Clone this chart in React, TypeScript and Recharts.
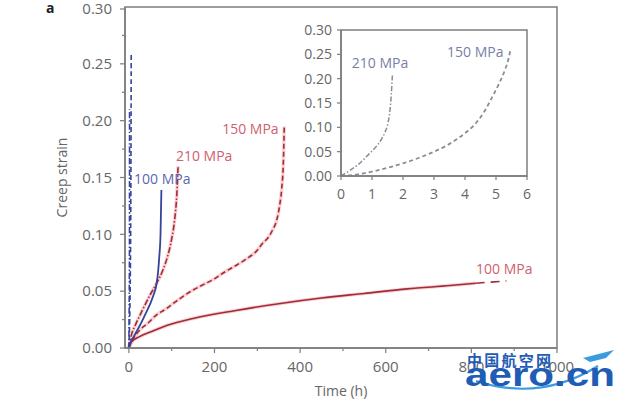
import { LineChart, Line, XAxis, YAxis, ReferenceArea, ReferenceDot } from 'recharts';

if (typeof document !== 'undefined') document.body.style.margin = '0';

// main panel (time in hours)
const Y_MAJOR = [0, 0.05, 0.1, 0.15, 0.2, 0.25, 0.3];
const Y_MINOR = [0.025, 0.075, 0.125, 0.175, 0.225, 0.275];
const X_MAJOR = [0, 200, 400, 600, 800, 1000];
const X_MINOR = [100, 300, 500, 700, 900];

// inset panel
const IN_Y_MAJOR = [0, 0.05, 0.1, 0.15, 0.2, 0.25, 0.3];
const IN_Y_MINOR = [0.025, 0.075, 0.125, 0.175, 0.225, 0.275];
const IN_X_MAJOR = [0, 1, 2, 3, 4, 5, 6];
const IN_X_MINOR = [0.5, 1.5, 2.5, 3.5, 4.5, 5.5];

// short-lived tests (shown in inset, also near x=0 in the main panel)
const T_210_SHORT = [0, 0.3, 0.6, 0.9, 1.1, 1.3, 1.42, 1.52, 1.58, 1.62, 1.66];
const S_210_SHORT = [0, 0.012, 0.026, 0.045, 0.058, 0.075, 0.09, 0.11, 0.135, 0.165, 0.21];
const T_150_SHORT = [0, 0.5, 1, 1.5, 2, 2.5, 3, 3.5, 4, 4.3, 4.6, 4.9, 5.1, 5.3, 5.4, 5.47];
const S_150_SHORT = [0, 0.003, 0.009, 0.017, 0.026, 0.037, 0.05, 0.066, 0.088, 0.105, 0.13, 0.165, 0.19, 0.22, 0.24, 0.26];

// blue 100 MPa
const T_100_BLUE = [0, 5, 10, 20, 30, 40, 50, 58, 64, 68, 71, 74, 76];
const S_100_BLUE = [0, 0.006, 0.009, 0.016, 0.023, 0.031, 0.039, 0.047, 0.055, 0.066, 0.08, 0.1, 0.139];

// red series
const T_210_RED = [0, 5, 15, 30, 50, 65, 80, 90, 100, 107, 112, 115];
const S_210_RED = [0, 0.01, 0.02, 0.032, 0.047, 0.057, 0.069, 0.08, 0.096, 0.113, 0.135, 0.16];
const T_150_RED = [0, 10, 26, 45, 64, 85, 103, 125, 150, 175, 196, 220, 243, 265, 281, 300, 312, 325, 336, 345, 352, 357, 361, 363];
const S_150_RED = [0, 0.008, 0.016, 0.022, 0.029, 0.034, 0.039, 0.045, 0.051, 0.056, 0.06, 0.066, 0.071, 0.076, 0.08, 0.086, 0.092, 0.097, 0.104, 0.112, 0.125, 0.14, 0.165, 0.195];
const T_100_RED = [0, 5, 25, 50, 90, 150, 250, 350, 450, 550, 650, 750, 810];
const S_100_RED = [0, 0.005, 0.01, 0.014, 0.02, 0.026, 0.033, 0.039, 0.044, 0.048, 0.052, 0.055, 0.057];
const T_100_RED_EXT = [810, 882];
const S_100_RED_EXT = [0.057, 0.059];

const FONT = '"Open Sans", "DejaVu Sans", sans-serif';
const AXIS = '#7d7d7d';
const TEXT = '#666';
const RED = '#a02c3a';
const HALO = '#f07a80';
const BLUE = '#34449a';

const zip = (t: number[], s: number[]) => t.map((v, i) => ({ t: v, s: s[i] }));

const TICK_SIZE = 5;
const TICK_GAP = 8;

function makeYTick(majors: number[], size: number, gap: number, fontSize: number) {
  return (props: any) => {
    const { x, y, payload } = props;
    const major = majors.includes(payload.value);
    const ax = x + size + gap;
    return (
      <g>
        <line x1={ax} x2={ax - (major ? size : size - 2)} y1={y} y2={y} stroke={AXIS} strokeWidth={1.2} />
        {major && (
          <text x={x} y={y} dy="0.35em" textAnchor="end" fill={TEXT} fontSize={fontSize} fontFamily={FONT}>
            {payload.value.toFixed(2)}
          </text>
        )}
      </g>
    );
  };
}

function makeXTick(majors: number[], size: number, gap: number, fontSize: number) {
  return (props: any) => {
    const { x, y, payload } = props;
    const major = majors.includes(payload.value);
    const ay = y - size - gap;
    return (
      <g>
        <line x1={x} x2={x} y1={ay} y2={ay + (major ? size : size - 2)} stroke={AXIS} strokeWidth={1.2} />
        {major && (
          <text x={x} y={y} dy="0.75em" textAnchor="middle" fill={TEXT} fontSize={fontSize} fontFamily={FONT}>
            {payload.value}
          </text>
        )}
      </g>
    );
  };
}

const MainYTick = makeYTick(Y_MAJOR, TICK_SIZE, TICK_GAP, 15);
const MainXTick = makeXTick(X_MAJOR, TICK_SIZE, TICK_GAP, 15);
const InsetYTick = makeYTick(IN_Y_MAJOR, 4, 5, 14);
const InsetXTick = makeXTick(IN_X_MAJOR, 4, 8, 14);

function tag(x: number, y: number, text: string, color: string, size = 14) {
  return (
    <ReferenceDot
      key={text + x}
      x={x}
      y={y}
      r={0}
      stroke="none"
      ifOverflow="visible"
      label={{ value: text, position: 'right', offset: 0, fill: color, fontSize: size, fontFamily: FONT }}
    />
  );
}

function MainChart() {
  return (
    <LineChart width={620} height={399} margin={{ top: 7, right: 63, bottom: 21, left: 0 }}>
      <XAxis
        dataKey="t"
        type="number"
        domain={[-9, 1000]}
        allowDataOverflow
        ticks={[...X_MAJOR, ...X_MINOR].sort((a, b) => a - b)}
        tick={MainXTick}
        tickLine={false}
        tickSize={TICK_SIZE}
        tickMargin={TICK_GAP}
        height={30}
        axisLine={{ stroke: AXIS, strokeWidth: 1.5 }}
        label={{ value: 'Time (h)', position: 'bottom', offset: 8, fill: TEXT, fontSize: 14, fontFamily: FONT }}
      />
      <YAxis
        type="number"
        domain={[0, 0.3]}
        allowDataOverflow
        ticks={[...Y_MAJOR, ...Y_MINOR].sort((a, b) => a - b)}
        tick={MainYTick}
        tickLine={false}
        tickSize={TICK_SIZE}
        tickMargin={TICK_GAP}
        width={125}
        axisLine={{ stroke: AXIS, strokeWidth: 1.5 }}
        label={{ value: 'Creep strain', angle: -90, position: 'insideLeft', offset: 62, fill: TEXT, fontSize: 14, fontFamily: FONT, style: { textAnchor: 'middle' } }}
      />
      <ReferenceArea x1={-9} x2={1000} y1={0} y2={0.3} fill="none" stroke={AXIS} strokeWidth={1.5} ifOverflow="visible" />

      {/* red halos under the red curves */}
      <Line data={zip(T_100_RED, S_100_RED)} dataKey="s" type="monotone" stroke={HALO} strokeOpacity={0.35} strokeWidth={3.5} dot={false} isAnimationActive={false} />
      <Line data={zip(T_150_RED, S_150_RED)} dataKey="s" type="monotone" stroke={HALO} strokeOpacity={0.35} strokeWidth={3.5} dot={false} isAnimationActive={false} />
      <Line data={zip(T_210_RED, S_210_RED)} dataKey="s" type="monotone" stroke={HALO} strokeOpacity={0.35} strokeWidth={3.5} dot={false} isAnimationActive={false} />

      <Line data={zip(T_100_RED, S_100_RED)} dataKey="s" type="monotone" stroke={RED} strokeWidth={1.6} dot={false} isAnimationActive={false} />
      <Line data={zip(T_100_RED_EXT, S_100_RED_EXT)} dataKey="s" type="linear" stroke={RED} strokeWidth={1.6} strokeDasharray="9 6" dot={false} isAnimationActive={false} />
      <Line data={zip(T_150_RED, S_150_RED)} dataKey="s" type="monotone" stroke={RED} strokeWidth={1.6} strokeDasharray="5 3" dot={false} isAnimationActive={false} />
      <Line data={zip(T_210_RED, S_210_RED)} dataKey="s" type="monotone" stroke={RED} strokeWidth={1.6} strokeDasharray="6 2 1.5 2" dot={false} isAnimationActive={false} />

      <Line data={zip(T_100_BLUE, S_100_BLUE)} dataKey="s" type="monotone" stroke={BLUE} strokeWidth={1.8} dot={false} isAnimationActive={false} />
      <Line data={zip(T_150_SHORT, S_150_SHORT)} dataKey="s" type="monotone" stroke={BLUE} strokeWidth={1.6} strokeDasharray="5 3" dot={false} isAnimationActive={false} />
      <Line data={zip(T_210_SHORT, S_210_SHORT)} dataKey="s" type="monotone" stroke={BLUE} strokeWidth={1.6} strokeDasharray="6 2 1.5 2" dot={false} isAnimationActive={false} />

      {tag(12, 0.1487, '100 MPa', '#5a68b0')}
      {tag(110, 0.169, '210 MPa', '#d0606e')}
      {tag(218, 0.193, '150 MPa', '#d0606e')}
      {tag(811, 0.0695, '100 MPa', '#d0606e')}
    </LineChart>
  );
}

function InsetChart() {
  return (
    <LineChart width={250} height={190} margin={{ top: 10, right: 13, bottom: 9, left: 0 }}>
      <XAxis
        dataKey="t"
        type="number"
        domain={[0, 6]}
        allowDataOverflow
        ticks={[...IN_X_MAJOR, ...IN_X_MINOR].sort((a, b) => a - b)}
        tick={InsetXTick}
        tickLine={false}
        tickSize={4}
        tickMargin={8}
        height={25}
        axisLine={{ stroke: AXIS, strokeWidth: 1.5 }}
      />
      <YAxis
        type="number"
        domain={[0, 0.3]}
        allowDataOverflow
        ticks={[...IN_Y_MAJOR, ...IN_Y_MINOR].sort((a, b) => a - b)}
        tick={InsetYTick}
        tickLine={false}
        tickSize={4}
        tickMargin={5}
        width={51}
        axisLine={{ stroke: AXIS, strokeWidth: 1.5 }}
      />
      <ReferenceArea x1={0} x2={6} y1={0} y2={0.3} fill="none" stroke={AXIS} strokeWidth={1.5} ifOverflow="visible" />
      <Line data={zip(T_210_SHORT, S_210_SHORT)} dataKey="s" type="monotone" stroke="#8c8c98" strokeWidth={1.5} strokeDasharray="5 2 1.5 2" dot={false} isAnimationActive={false} />
      <Line data={zip(T_150_SHORT, S_150_SHORT)} dataKey="s" type="monotone" stroke="#8c8c98" strokeWidth={1.8} strokeDasharray="4 3" dot={false} isAnimationActive={false} />
      {tag(0.35, 0.232, '210 MPa', '#7880a8')}
      {tag(3.42, 0.255, '150 MPa', '#7880a8')}
    </LineChart>
  );
}

function Overlay() {
  return (
    <svg width={620} height={399} style={{ position: 'absolute', left: 0, top: 0, pointerEvents: 'none' }}>
      <text x={46} y={13} fontSize={14} fontWeight="bold" fontFamily={FONT} fill="#222">a</text>
      <text x={467} y={366} fontSize={15} fontWeight="bold" fontFamily='"Noto Sans CJK SC", sans-serif' fill="#1f5cb5" textLength={84} lengthAdjust="spacing">中国航空网</text>
      <path d="M476 381 Q540 402 598 366" stroke="#3a9be0" strokeWidth={2.2} fill="none" />
      <path d="M583 358 L614 350 L606 358 L590 362 Z" fill="#3a9be0" />
      <text x={465} y={386} fontSize={33} fontWeight="bold" fontFamily='"Liberation Sans", Arial, sans-serif' fill="#1f5cb5" textLength={150} lengthAdjust="spacingAndGlyphs">aero.cn</text>
    </svg>
  );
}

export default function App() {
  return (
    <div style={{ position: 'relative', width: 620, height: 399, background: '#fff', overflow: 'hidden' }}>
      <div style={{ position: 'absolute', left: 0, top: 0 }}>
        <MainChart />
      </div>
      <div style={{ position: 'absolute', left: 290, top: 20 }}>
        <InsetChart />
      </div>
      <Overlay />
    </div>
  );
}
